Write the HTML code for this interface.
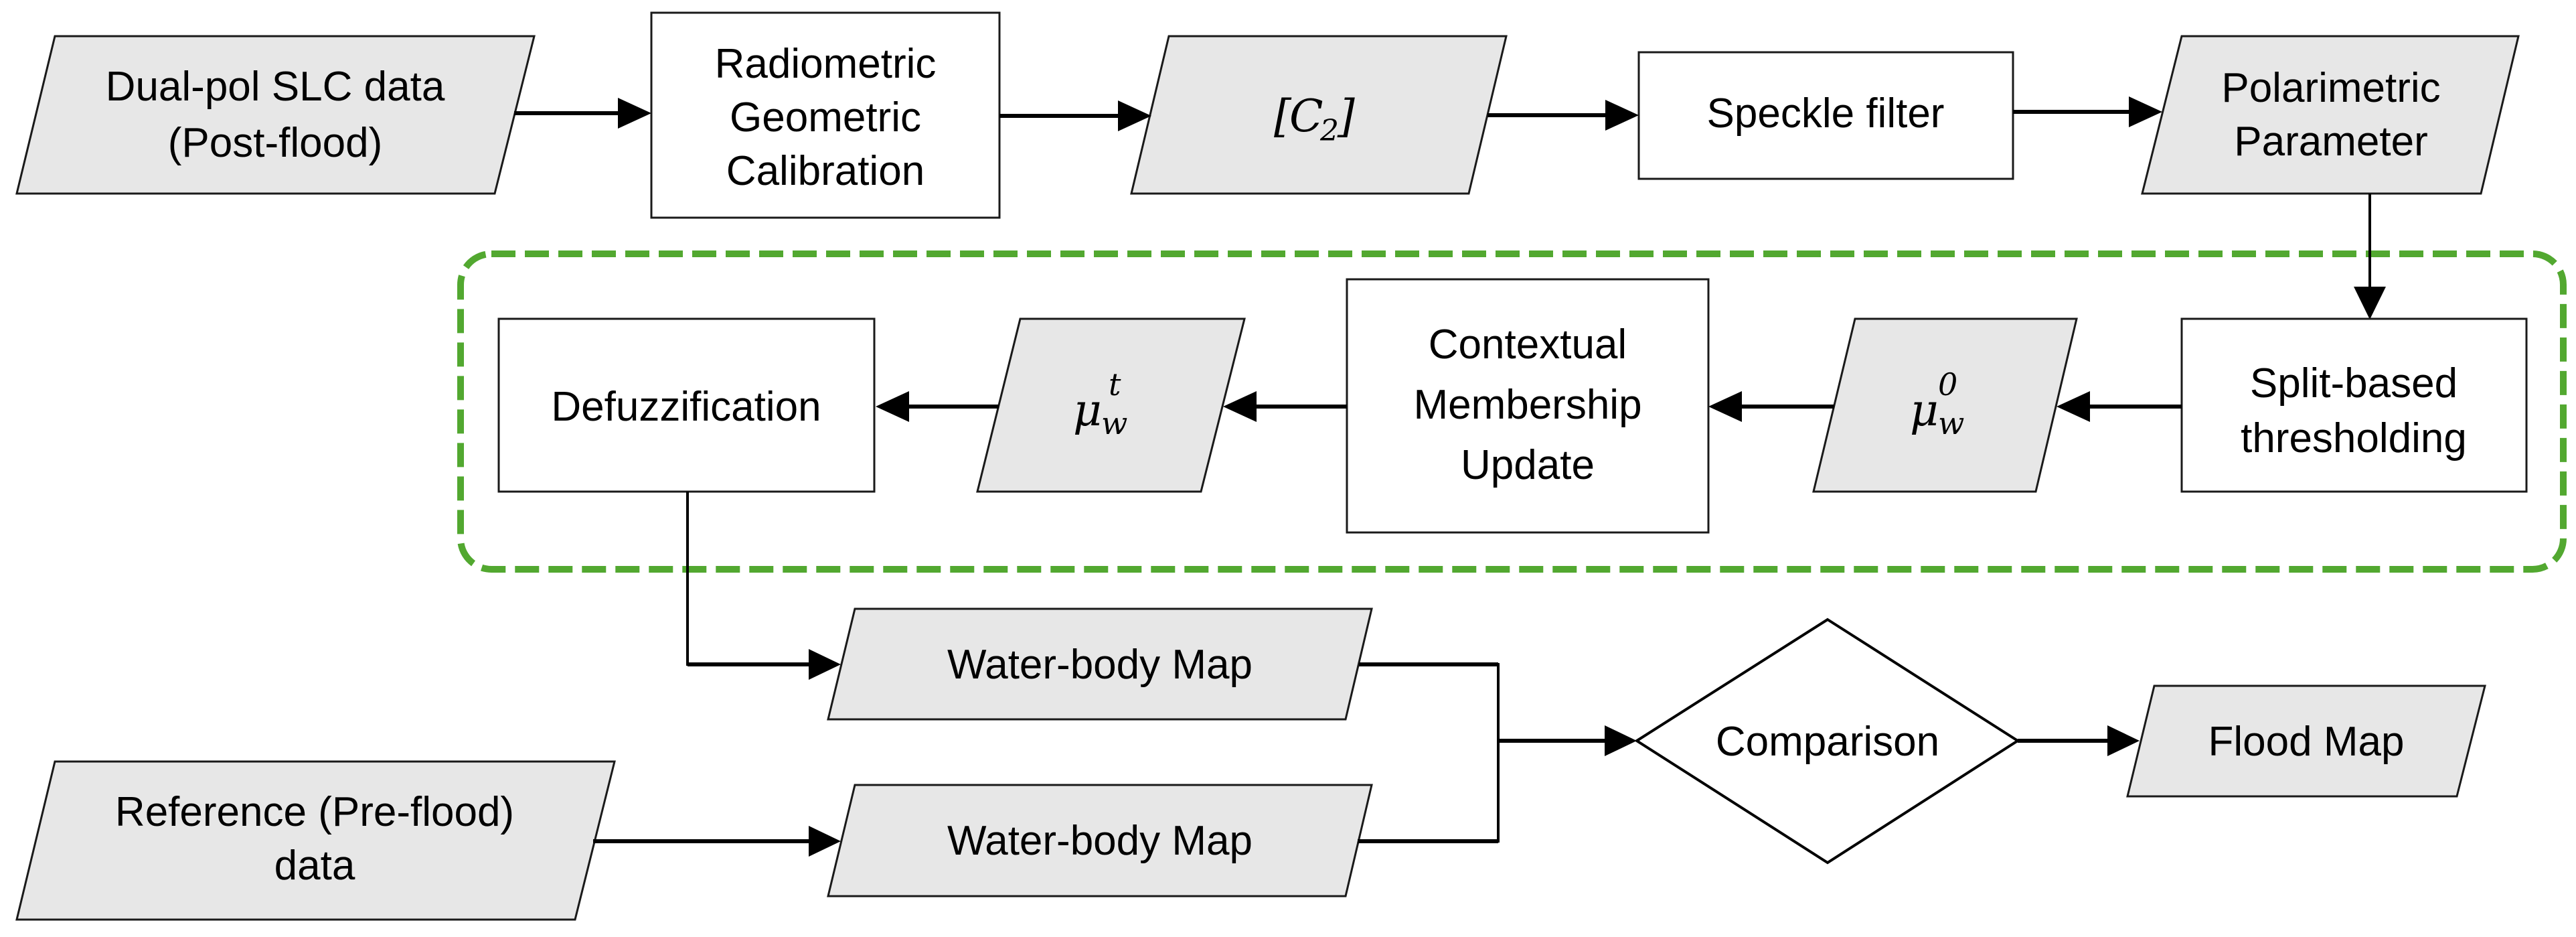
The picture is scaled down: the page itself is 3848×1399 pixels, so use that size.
<!DOCTYPE html>
<html><head><meta charset="utf-8"><style>
html,body{margin:0;padding:0;background:#fff;}
svg{display:block;}
.t{font-family:"Liberation Sans",Arial,sans-serif;font-size:62px;fill:#000;text-anchor:middle;}
.m{font-family:"DejaVu Serif","Liberation Serif",serif;font-style:italic;fill:#000;}
.p{fill:#e7e7e7;stroke:#1a1a1a;stroke-width:3;}
.b{fill:#fff;stroke:#1a1a1a;stroke-width:3;}
.c{stroke:#000;stroke-width:6;fill:none;}
</style></head><body>
<svg width="3848" height="1399" viewBox="0 0 3848 1399" xmlns="http://www.w3.org/2000/svg">
<!-- green dashed group -->
<rect x="688" y="379" width="3141" height="471" rx="46" ry="46" fill="none" stroke="#52a830" stroke-width="10" stroke-dasharray="36 14"/>

<!-- Row 1 -->
<polygon class="p" points="82,54 798,54 739,289 25,289"/>
<text class="t" x="411" y="150">Dual-pol SLC data</text>
<text class="t" x="411" y="234">(Post-flood)</text>

<rect class="b" x="973" y="19" width="520" height="306"/>
<text class="t" x="1233" y="116">Radiometric</text>
<text class="t" x="1233" y="196">Geometric</text>
<text class="t" x="1233" y="276">Calibration</text>

<polygon class="p" points="1746,54 2250,54 2194,289 1690,289"/>
<text class="m" x="1903" y="196" font-size="66" font-style="normal">[</text>
<text class="m" x="1926" y="196" font-size="66">C</text>
<text class="m" x="1972" y="210" font-size="44" font-style="normal">2</text>
<text class="m" x="1998" y="196" font-size="66" font-style="normal">]</text>

<rect class="b" x="2448" y="78" width="559" height="189"/>
<text class="t" x="2727" y="190">Speckle filter</text>

<polygon class="p" points="3259,54 3762,54 3706,289 3200,289"/>
<text class="t" x="3482" y="152">Polarimetric</text>
<text class="t" x="3482" y="232">Parameter</text>

<!-- Row 1 arrows -->
<line class="c" x1="768" y1="169" x2="925" y2="169"/><polygon points="973,169 923,146 923,192"/>
<line class="c" x1="1493" y1="173" x2="1670" y2="173"/><polygon points="1720,173 1670,150 1670,196"/>
<line class="c" x1="2222" y1="172" x2="2400" y2="172"/><polygon points="2448,172 2398,149 2398,195"/>
<line class="c" x1="3007" y1="167" x2="3182" y2="167"/><polygon points="3230,167 3180,144 3180,190"/>
<line x1="3540" y1="289" x2="3540" y2="430" stroke="#000" stroke-width="4"/><polygon points="3540,477 3516,428 3564,428"/>

<!-- Row 2 -->
<rect class="b" x="745" y="476" width="561" height="258"/>
<text class="t" x="1025" y="628">Defuzzification</text>

<polygon class="p" points="1524,476 1859,476 1794,734 1460,734"/>
<text class="m" x="1603" y="635" font-size="66">μ</text>
<text class="m" x="1645" y="648" font-size="46">w</text>
<text class="m" x="1656" y="590" font-size="46">t</text>

<rect class="b" x="2012" y="417" width="540" height="378"/>
<text class="t" x="2282" y="535">Contextual</text>
<text class="t" x="2282" y="625">Membership</text>
<text class="t" x="2282" y="715">Update</text>

<polygon class="p" points="2771,476 3102,476 3041,734 2709,734"/>
<text class="m" x="2853" y="635" font-size="66">μ</text>
<text class="m" x="2895" y="648" font-size="46">w</text>
<text class="m" x="2895" y="590" font-size="46" font-style="normal">0</text>

<rect class="b" x="3259" y="476" width="515" height="258"/>
<text class="t" x="3516" y="593">Split-based</text>
<text class="t" x="3516" y="675">thresholding</text>

<!-- Row 2 arrows (leftward) -->
<line class="c" x1="3259" y1="607" x2="3120" y2="607"/><polygon points="3072,607 3122,584 3122,630"/>
<line class="c" x1="2740" y1="607" x2="2600" y2="607"/><polygon points="2552,607 2602,584 2602,630"/>
<line class="c" x1="2012" y1="607" x2="1875" y2="607"/><polygon points="1827,607 1877,584 1877,630"/>
<line class="c" x1="1492" y1="607" x2="1356" y2="607"/><polygon points="1308,607 1358,584 1358,630"/>

<!-- Defuzz to water-body map -->
<polyline points="1027,734 1027,992 1210,992" fill="none" stroke="#000" stroke-width="4"/>
<line class="c" x1="1027" y1="992" x2="1210" y2="992"/>
<polygon points="1256,992 1208,969 1208,1015"/>

<!-- Row 3/4 -->
<polygon class="p" points="1277,909 2049,909 2010,1074 1237,1074"/>
<text class="t" x="1643" y="1013">Water-body Map</text>

<polygon class="p" points="1277,1172 2049,1172 2010,1338 1237,1338"/>
<text class="t" x="1643" y="1276">Water-body Map</text>

<polygon class="p" points="82,1137 918,1137 859,1373 25,1373"/>
<text class="t" x="470" y="1233">Reference (Pre-flood)</text>
<text class="t" x="470" y="1313">data</text>

<line class="c" x1="886" y1="1256" x2="1210" y2="1256"/><polygon points="1256,1256 1208,1233 1208,1279"/>

<!-- merge -->
<polyline points="2030,992 2238,992 2238,1256 2028,1256" fill="none" stroke="#000" stroke-width="4"/>
<line class="c" x1="2030" y1="992" x2="2238" y2="992"/>
<line class="c" x1="2028" y1="1256" x2="2238" y2="1256"/>
<line class="c" x1="2238" y1="1106" x2="2400" y2="1106"/><polygon points="2445,1106 2397,1083 2397,1129"/>

<polygon points="2730,925 3014,1106 2730,1288 2445,1106" fill="#fff" stroke="#000" stroke-width="4"/>
<text class="t" x="2730" y="1128">Comparison</text>

<line class="c" x1="3014" y1="1106" x2="3150" y2="1106"/><polygon points="3196,1106 3148,1083 3148,1129"/>

<polygon class="p" points="3218,1024 3712,1024 3670,1189 3178,1189"/>
<text class="t" x="3445" y="1128">Flood Map</text>
</svg>
</body></html>
